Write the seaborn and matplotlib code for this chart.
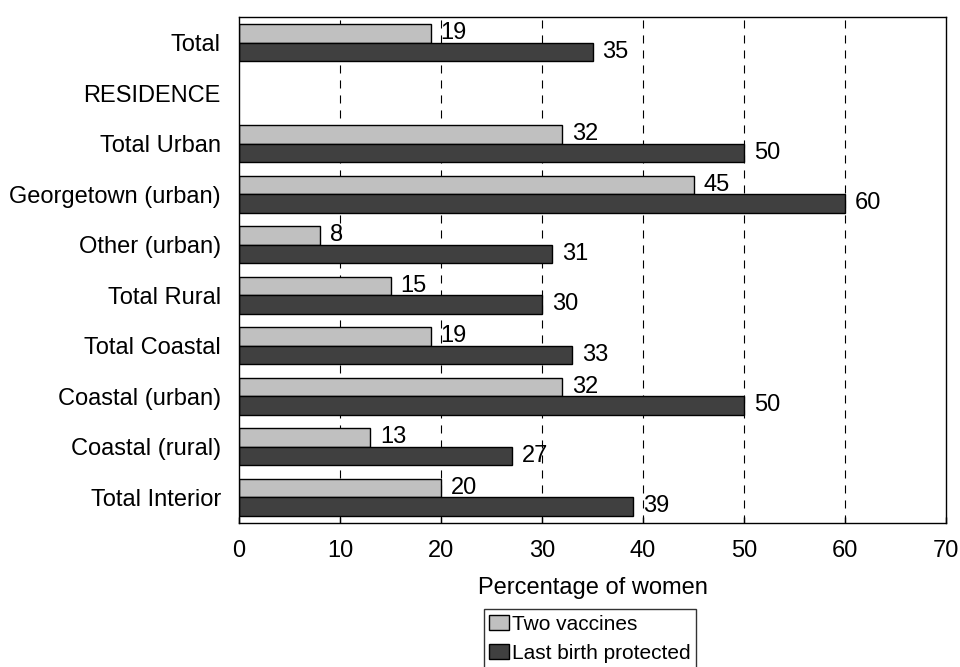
import pandas as pd
import matplotlib.pyplot as plt
import seaborn as sns

categories = ['Total', 'RESIDENCE', 'Total Urban', 'Georgetown (urban)', 'Other (urban)',
              'Total Rural', 'Total Coastal', 'Coastal (urban)', 'Coastal (rural)', 'Total Interior']
data_categories = ['Total', 'Total Urban', 'Georgetown (urban)', 'Other (urban)',
                   'Total Rural', 'Total Coastal', 'Coastal (urban)', 'Coastal (rural)', 'Total Interior']
two_vaccines = [19, 32, 45, 8, 15, 19, 32, 13, 20]
last_birth = [35, 50, 60, 31, 30, 33, 50, 27, 39]
series = ['Two vaccines', 'Last birth protected']

df = pd.concat([
    pd.DataFrame({'category': data_categories, 'value': two_vaccines, 'series': series[0]}),
    pd.DataFrame({'category': data_categories, 'value': last_birth, 'series': series[1]}),
])

sns.set_theme(style='white')
plt.rcParams['font.family'] = ['Liberation Sans', 'DejaVu Sans']
plt.rcParams['text.color'] = 'black'
plt.rcParams['axes.labelcolor'] = 'black'
plt.rcParams['xtick.color'] = 'black'
plt.rcParams['ytick.color'] = 'black'
plt.rcParams['lines.scale_dashes'] = False

fig = plt.figure(figsize=(9.6, 6.67), dpi=100)
ax = fig.add_axes([0.249, 0.2159, 0.7365, 0.7586])

sns.barplot(data=df, y='category', x='value', hue='series', order=categories,
            hue_order=series, palette=['#c0c0c0', '#404040'], orient='h',
            width=0.73, edgecolor='black', linewidth=1, saturation=1, ax=ax)

for cont in ax.containers:
    ax.bar_label(cont, padding=7, fontsize=17, color='black')

ax.set_xlim(0, 70)
ax.set_ylim(9.51, -0.505)
ax.set_xticks(range(0, 71, 10))
ax.set_axisbelow(True)
for xv in range(10, 70, 10):
    ax.axvline(xv, color='black', linestyle=(0, (5.8, 5.0)), linewidth=0.8, zorder=0)

ax.tick_params(axis='x', direction='in', length=4, width=1, color='black',
               labelsize=17, pad=12, bottom=True)
ax.tick_params(axis='y', length=0, labelsize=17, pad=13)
ax.set_xlabel('Percentage of women', fontsize=17, labelpad=11)
ax.set_ylabel('')
for sp in ax.spines.values():
    sp.set_color('black')
    sp.set_linewidth(1)

leg = ax.legend(loc='upper center', bbox_to_anchor=(0.496, -0.1706), ncol=1,
                frameon=True, fancybox=False, edgecolor='black', fontsize=15,
                handlelength=0.95, handleheight=0.7, handletextpad=0.15,
                borderpad=0.25, labelspacing=0.5, borderaxespad=0)
leg.get_frame().set_linewidth(1)
for h in leg.legend_handles:
    h.set_edgecolor('black')
    h.set_linewidth(1)

fig.savefig('out.png', dpi=100)
